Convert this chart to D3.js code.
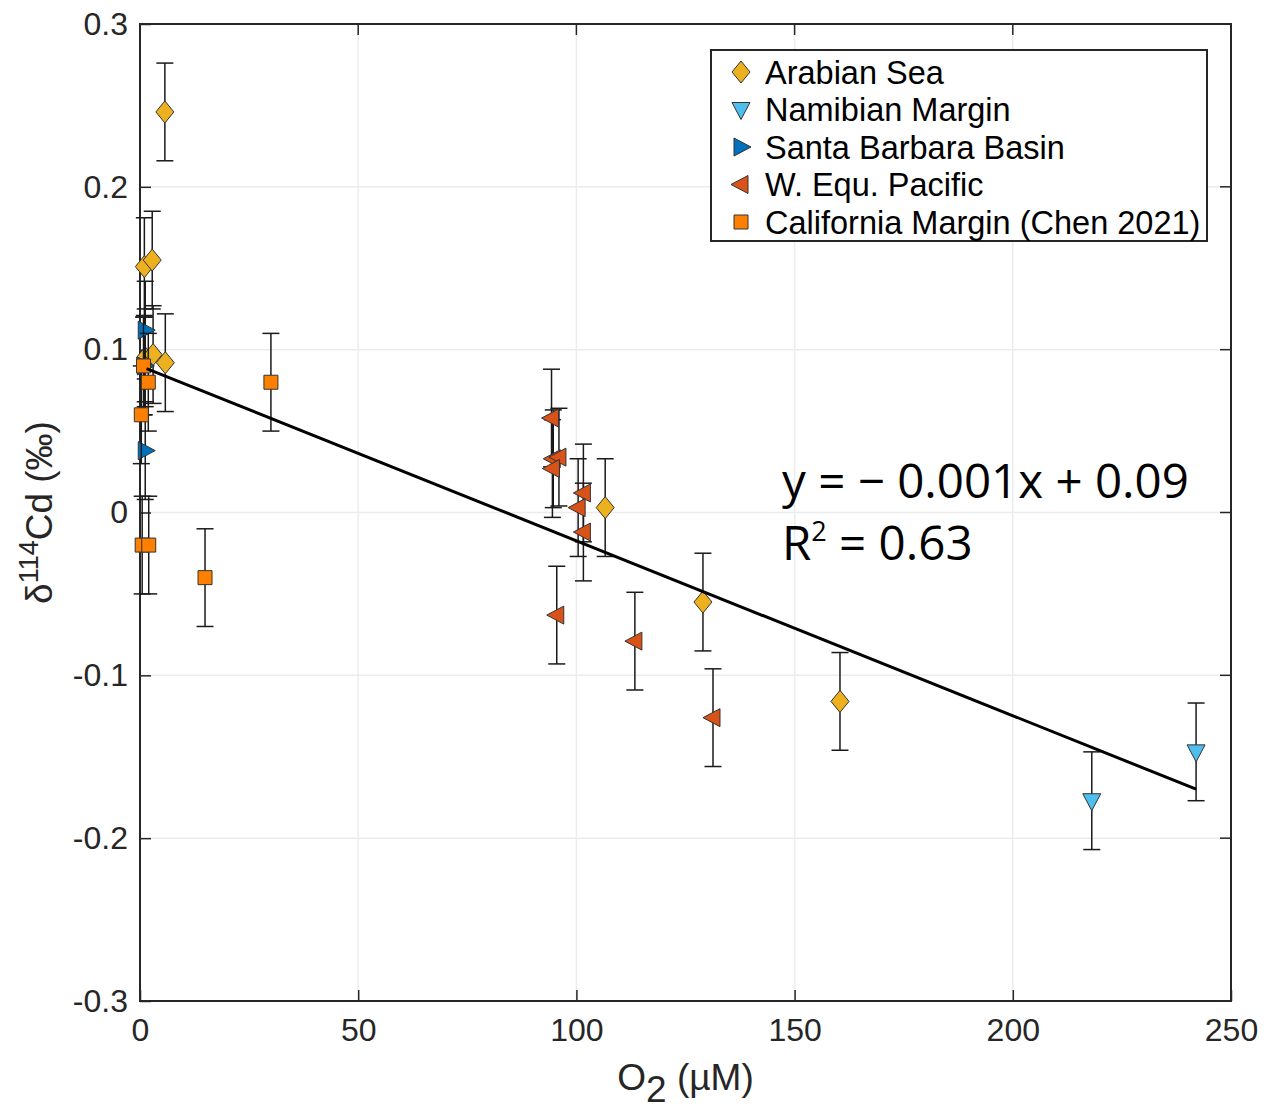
<!DOCTYPE html>
<html>
<head>
<meta charset="utf-8">
<script src="https://cdn.jsdelivr.net/npm/d3@7"></script>
<style>
  body { margin: 0; background: #fff; }
</style>
</head>
<body>
<div id="plot"></div>
<script>
// series data: O2 (uM), d114Cd (permil), error (+/-)
const arabianX = [5.7, 1.0, 2.8, 1.2, 3.0, 5.8, 106.6, 129.0, 160.4];
const arabianY = [0.246, 0.151, 0.155, 0.095, 0.097, 0.092, 0.003, -0.055, -0.116];
const namibX = [218.1, 242.0];
const namibY = [-0.177, -0.147];
const sbbX = [1.2, 1.0, 1.2];
const sbbY = [0.112, 0.090, 0.038];
const wepX = [94.3, 94.7, 96.0, 94.5, 101.6, 100.4, 101.6, 95.5, 113.4, 131.3];
const wepY = [0.058, 0.033, 0.034, 0.027, 0.012, 0.003, -0.012, -0.063, -0.079, -0.126];
const calX = [30.0, 14.9, 0.3, 0.8, 1.9, 0.5, 2.0];
const calY = [0.080, -0.040, 0.060, 0.090, 0.080, -0.020, -0.020];
const errVal = 0.03;

const xTicks = [0, 50, 100, 150, 200, 250];
const yTicks = [-0.3, -0.2, -0.1, 0, 0.1, 0.2, 0.3];
const fitSlope = -0.001074, fitIntercept = 0.09;
const fitRange = [1.5, 242];

const W = 1274, H = 1112;
const mLeft = 140, mRight = 1231, mTop = 24, mBottom = 1001;
const axFont = "Liberation Sans, Arial, sans-serif";
const eqFont = "Open Sans, Noto Sans, sans-serif";

const svg = d3.select("#plot").append("svg")
  .attr("width", W).attr("height", H)
  .style("font-family", axFont);

const x = d3.scaleLinear().domain([0, 250]).range([mLeft, mRight]);
const y = d3.scaleLinear().domain([-0.3, 0.3]).range([mBottom, mTop]);

// grid
svg.append("g").selectAll("line").data(xTicks.slice(1, -1)).enter().append("line")
  .attr("x1", d => x(d)).attr("x2", d => x(d)).attr("y1", mTop).attr("y2", mBottom)
  .attr("stroke", "#ececec").attr("stroke-width", 1.5);
svg.append("g").selectAll("line").data(yTicks.slice(1, -1)).enter().append("line")
  .attr("y1", d => y(d)).attr("y2", d => y(d)).attr("x1", mLeft).attr("x2", mRight)
  .attr("stroke", "#ececec").attr("stroke-width", 1.5);

// axes
const fmtY = d => d === 0 ? "0" : d.toFixed(1);
const yAxis = svg.append("g").attr("transform", `translate(${mLeft},0)`)
  .call(d3.axisLeft(y).tickValues(yTicks).tickSize(-11).tickPadding(12).tickFormat(fmtY));
const xAxis = svg.append("g").attr("transform", `translate(0,${mBottom})`)
  .call(d3.axisBottom(x).tickValues(xTicks).tickSize(-11).tickPadding(16).tickFormat(d3.format("d")));
[xAxis, yAxis].forEach(a => {
  a.select(".domain").remove();
  a.selectAll(".tick line").attr("stroke", "#262626").attr("stroke-width", 1.5);
  a.selectAll(".tick text").style("font-size", "32px").style("font-family", axFont).attr("fill", "#262626");
});
xAxis.selectAll(".tick text").attr("dy", "0.75em");
// right / top ticks
svg.append("g").selectAll("line").data(yTicks).enter().append("line")
  .attr("x1", mRight).attr("x2", mRight - 11).attr("y1", d => y(d)).attr("y2", d => y(d))
  .attr("stroke", "#262626").attr("stroke-width", 1.5);
svg.append("g").selectAll("line").data(xTicks).enter().append("line")
  .attr("y1", mTop).attr("y2", mTop + 11).attr("x1", d => x(d)).attr("x2", d => x(d))
  .attr("stroke", "#262626").attr("stroke-width", 1.5);
svg.append("rect").attr("x", mLeft).attr("y", mTop)
  .attr("width", mRight - mLeft).attr("height", mBottom - mTop)
  .attr("fill", "none").attr("stroke", "#262626").attr("stroke-width", 2);

// axis labels
svg.append("text").attr("x", (mLeft + mRight) / 2).attr("y", 1090)
  .attr("text-anchor", "middle").style("font-size", "37px").attr("fill", "#262626")
  .html('O<tspan dy="12">2</tspan><tspan dy="-12"> (µM)</tspan>');
svg.append("text").attr("transform", `translate(52,${(mTop + mBottom) / 2}) rotate(-90)`)
  .attr("text-anchor", "middle").style("font-size", "37px").attr("fill", "#262626")
  .html('δ<tspan dy="-14" style="font-size:27px">114</tspan><tspan dy="14">Cd (‰)</tspan>');

// marker shapes (path generators centred on 0,0)
const shapes = {
  diamond: "M0,-11L9,0L0,11L-9,0Z",
  down: "M-9,-7L9,-7L0,10Z",
  right: "M-7,-9L10,0L-7,9Z",
  left: "M7,-9L-10,0L7,9Z",
  square: "M-7,-7L7,-7L7,7L-7,7Z"
};

const series = [
  { name: "Arabian Sea", xs: arabianX, ys: arabianY, color: "#EDB120", shape: "diamond" },
  { name: "Namibian Margin", xs: namibX, ys: namibY, color: "#4DBEEE", shape: "down" },
  { name: "Santa Barbara Basin", xs: sbbX, ys: sbbY, color: "#0072BD", shape: "right" },
  { name: "W. Equ. Pacific", xs: wepX, ys: wepY, color: "#D95319", shape: "left" },
  { name: "California Margin (Chen 2021)", xs: calX, ys: calY, color: "#FF8000", shape: "square" }
];

series.forEach(s => {
  const pts = s.xs.map((v, i) => ({ x: v, y: s.ys[i] }));
  const g = svg.append("g");
  const eb = g.selectAll("g.eb").data(pts).enter().append("g")
    .attr("stroke", "#1a1a1a").attr("stroke-width", 1.5);
  eb.append("line").attr("x1", d => x(d.x)).attr("x2", d => x(d.x))
    .attr("y1", d => y(d.y - errVal)).attr("y2", d => y(d.y + errVal));
  [-1, 1].forEach(sg => {
    eb.append("line").attr("x1", d => x(d.x) - 8.5).attr("x2", d => x(d.x) + 8.5)
      .attr("y1", d => y(d.y + sg * errVal)).attr("y2", d => y(d.y + sg * errVal));
  });
  g.selectAll("path").data(pts).enter().append("path")
    .attr("d", shapes[s.shape])
    .attr("transform", d => `translate(${x(d.x)},${y(d.y)})`)
    .attr("fill", s.color).attr("stroke", "#333").attr("stroke-width", 1);
});

// regression line
svg.append("line")
  .attr("x1", x(fitRange[0])).attr("y1", y(fitIntercept + fitSlope * fitRange[0]))
  .attr("x2", x(fitRange[1])).attr("y2", y(fitIntercept + fitSlope * fitRange[1]))
  .attr("stroke", "#000").attr("stroke-width", 3);

// equation
svg.append("text").attr("x", 782).attr("y", 498)
  .style("font-family", eqFont).style("font-size", "47.5px").attr("fill", "#000")
  .text("y = − 0.001x + 0.09");
svg.append("text").attr("x", 782).attr("y", 560)
  .style("font-family", eqFont).style("font-size", "47.5px").attr("fill", "#000")
  .html('R<tspan dy="-19" style="font-size:27px">2</tspan><tspan dy="19"> = 0.63</tspan>');

// legend
const lg = svg.append("g");
lg.append("rect").attr("x", 711).attr("y", 50).attr("width", 496).attr("height", 191)
  .attr("fill", "#fff").attr("stroke", "#262626").attr("stroke-width", 2);
series.forEach((s, i) => {
  const yy = 72 + i * 37.5;
  lg.append("path").attr("d", shapes[s.shape])
    .attr("transform", `translate(741,${yy})`)
    .attr("fill", s.color).attr("stroke", "#333").attr("stroke-width", 1);
  lg.append("text").attr("x", 765).attr("y", yy).attr("dy", "0.36em")
    .style("font-size", "32.5px").attr("fill", "#000").text(s.name);
});
</script>
</body>
</html>
